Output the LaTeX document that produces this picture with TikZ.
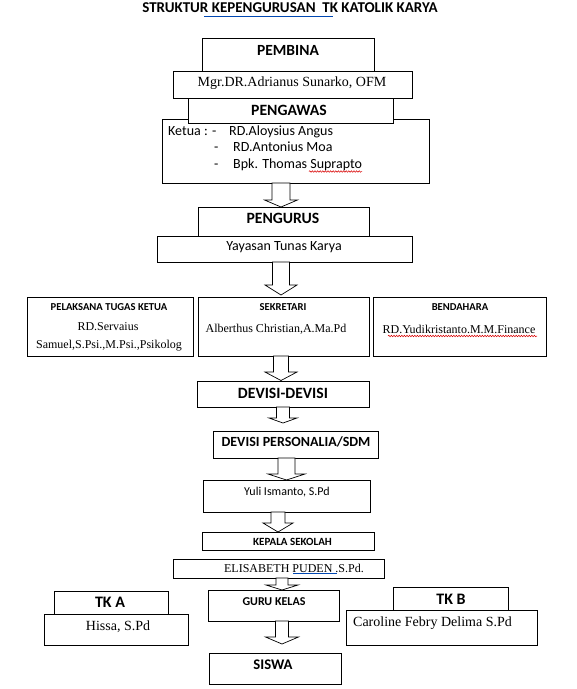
\documentclass[tikz,border=0pt]{standalone}
\usepackage{fontspec}
\setmainfont{Liberation Serif}
\newfontfamily\calfont{Carlito}
\usetikzlibrary{decorations.pathmorphing}
\newcommand\fsz[1]{\fontsize{#1}{#1}\selectfont}
\newcommand\barrow[6]{%
  \draw[barr] ({#1-#5},#2) -- ({#1-#5},#3) -- ({#1-#6},#3) -- (#1,#4) -- ({#1+#6},#3) -- ({#1+#5},#3) -- ({#1+#5},#2) -- cycle;}
\begin{document}
\begin{tikzpicture}[x=1pt,y=-1pt,
  box/.style={draw, line width=0.9pt, fill=white, inner sep=0pt, outer sep=0pt, anchor=north west},
  txt/.style={inner sep=0pt, text height=0.66em, text depth=0pt},
  hd/.style={txt, font=\calfont\bfseries\fsz{#1}},
  cal/.style={txt, font=\calfont\fsz{#1}},
  tms/.style={txt, font=\fsz{#1}},
  barr/.style={draw, fill=white, line width=0.7pt, line join=miter},
  wavy/.style={draw=red!85!black, line width=0.5pt, decorate, decoration={snake, amplitude=0.8pt, segment length=2.6pt}},
  blueline/.style={draw=blue!60!cyan!70!black, line width=0.7pt}]
\fill[white] (0,0) rectangle (577,689);
\useasboundingbox (0,0) rectangle (577,689);

% title
\node[hd=15] (title) at (290,9.5) {STRUKTUR KEPENGURUSAN\ \ TK KATOLIK KARYA};
\draw[blueline] (204,16) -- (333,16);

% boxes
\node[box, minimum width=172, minimum height=33] (pembina) at (202,38) {};
\node[box, minimum width=239, minimum height=27] (mgr) at (173,71) {};
\node[box, minimum width=267, minimum height=64] (ketua) at (162,119) {};
\node[box, minimum width=205, minimum height=25] (pengawas) at (188,98) {};
\node[box, minimum width=171, minimum height=29] (pengurus) at (198,207) {};
\node[box, minimum width=255, minimum height=26] (yayasan) at (157,236) {};
\node[box, minimum width=166, minimum height=59] (plt) at (27,297) {};
\node[box, minimum width=171, minimum height=59] (sek) at (198,297) {};
\node[box, minimum width=173, minimum height=59] (bend) at (373,297) {};
\node[box, minimum width=172, minimum height=26] (devisi) at (197,381) {};
\node[box, minimum width=165, minimum height=27] (pers) at (213,431) {};
\node[box, minimum width=167, minimum height=32] (yuli) at (203,480) {};
\node[box, minimum width=172, minimum height=18] (kepala) at (202,532) {};
\node[box, minimum width=211, minimum height=19] (elis) at (173,559) {};
\node[box, minimum width=131, minimum height=31] (guru) at (208,590) {};
\node[box, minimum width=132, minimum height=31] (siswa) at (209,653) {};
\node[box, minimum width=114, minimum height=23] (tka) at (54,591) {};
\node[box, minimum width=144, minimum height=31] (hissa) at (44,614) {};
\node[box, minimum width=115, minimum height=23] (tkb) at (393,587) {};
\node[box, minimum width=191, minimum height=35] (caroline) at (346,610) {};

% block arrows
\barrow{281}{183}{200}{207}{9}{16.5}
\barrow{281}{262}{285}{295}{8.5}{16}
\barrow{281}{356}{372}{380.5}{7.5}{16}
\barrow{283}{407}{418}{423}{6.5}{14}
\barrow{286.5}{458}{474}{480}{8.5}{18.5}
\barrow{278}{512}{523}{532}{7}{15}
\barrow{282}{578}{585}{590}{6}{16}
\barrow{282}{621}{637}{644}{6.5}{16.5}

% texts
\node[hd=15.5] (tpembina) at (288,52) {PEMBINA};
\node[tms=14] (tmgr) at (292,83.5) {Mgr.DR.Adrianus Sunarko, OFM};
\node[hd=15.7] (tpengawas) at (289,111.7) {PENGAWAS};
\node[cal=14, anchor=west] (k1a) at (168,132.5) {Ketua : -};
\node[cal=14, anchor=west] (k1b) at (229,132.5) {RD.Aloysius Angus};
\node[cal=14, anchor=west] (k2a) at (214,148.5) {-};
\node[cal=14, anchor=west] (k2b) at (233,148.5) {RD.Antonius Moa};
\node[cal=14, anchor=west] (k3a) at (214,165.5) {-};
\node[cal=14, anchor=west] (k3b) at (233,165.5) {Bpk. Thomas Suprapto};
\draw[wavy] (309,171.5) -- (362,171.5);
\node[hd=15.7] (tpengurus) at (283,220.5) {PENGURUS};
\node[cal=14] (tyayasan) at (284,247.5) {Yayasan Tunas Karya};

\node[hd=10.6] (tplt) at (109,306.7) {PELAKSANA TUGAS KETUA};
\node[tms=12] (tplt1) at (108,327.5) {RD.Servaius};
\node[tms=12] (tplt2) at (109,345.5) {Samuel,S.Psi.,M.Psi.,Psikolog};
\node[hd=10.6] (tsek) at (283,307) {SEKRETARI};
\node[tms=12] (tsek1) at (276,329) {Alberthus Christian,A.Ma.Pd};
\node[hd=10.6] (tbend) at (460,307) {BENDAHARA};
\node[tms=12] (tbend1) at (459,330) {RD.Yudikristanto.M.M.Finance};
\draw[wavy] (388,336) -- (537,336);

\node[hd=15.7] (tdevisi) at (283,395) {DEVISI-DEVISI};
\node[hd=14] (tpers) at (296,443) {DEVISI PERSONALIA/SDM};
\node[cal=12] (tyuli) at (287,492) {Yuli Ismanto, S.Pd};
\node[hd=11] (tkepala) at (292.5,542) {KEPALA SEKOLAH};
\node[tms=12] (telis) at (294,569) {ELISABETH PUDEN .S.Pd.};
\draw[blueline] (293,573.5) -- (337,573.5);
\node[hd=12] (tguru) at (274,602) {GURU KELAS};
\node[hd=14.7] (tsiswa) at (273,666) {SISWA};
\node[hd=16] (ttka) at (110,604) {TK A};
\node[tms=14] (thissa) at (118,627) {Hissa, S.Pd};
\node[hd=16] (ttkb) at (451,601) {TK B};
\node[tms=14] (tcaroline) at (432.5,623) {Caroline Febry Delima S.Pd};
\end{tikzpicture}
\end{document}
